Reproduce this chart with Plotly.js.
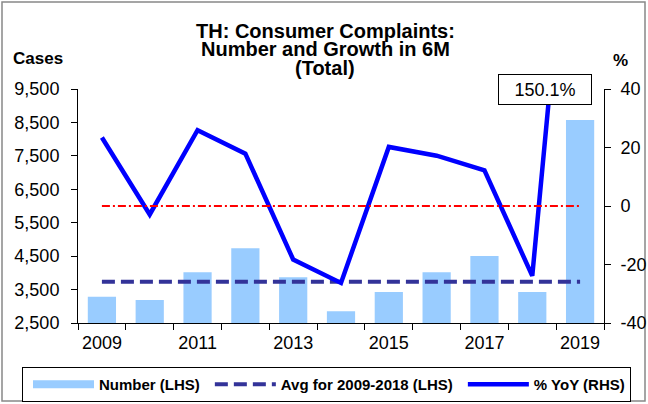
<!DOCTYPE html>
<html>
<head>
<meta charset="utf-8">
<script src="https://cdn.plot.ly/plotly-3.0.1.min.js"></script>
<style>html,body{margin:0;padding:0;background:#fff;}#chart{width:648px;height:404px;}</style>
</head>
<body>
<div id="chart"></div>
<script>
// ---- data ----
const years = [2009, 2010, 2011, 2012, 2013, 2014, 2015, 2016, 2017, 2018, 2019];
const complaints = [3287, 3190, 4016, 4734, 3866, 2850, 3427, 4016, 4504, 3427, 8573];
const yoyPct = [23.4, -2.9, 25.9, 17.9, -18.3, -26.3, 20.2, 17.2, 12.2, -23.9, 150.1];
const avgYears = [2009, 2019];
const avg2009to2018 = [3732, 3732];
const yearTickLabels = [2009, 2011, 2013, 2015, 2017, 2019];
const leftTicks = [2500, 3500, 4500, 5500, 6500, 7500, 8500, 9500];
const rightTicks = [-40, -20, 0, 20, 40];
const rightTickLabels = ['-40', '-20', '0', '20', '40'];
const calloutText = "150.1%";
const titleLines = ["TH: Consumer Complaints:", "Number and Growth in 6M", "(Total)"];

const FONT = "Arial, 'Liberation Sans', sans-serif";
const L = 78, R = 604, T = 89, B = 323;
const py = v => (B - v) / (B - T);
const px = v => (v - L) / (R - L);

const traces = [
  {type: 'bar', x: years, y: complaints, marker: {color: '#99CCFF'}, showlegend: false, yaxis: 'y', hoverinfo: 'skip'},
  {type: 'scatter', mode: 'lines', x: [null], y: [null], name: 'Number (LHS)', line: {color: '#99CCFF', width: 8}, yaxis: 'y'},
  {type: 'scatter', mode: 'lines', x: avgYears, y: avg2009to2018, name: 'Avg for 2009-2018 (LHS)',
   line: {color: '#333399', width: 4, dash: '13px,6px'}, yaxis: 'y'},
  {type: 'scatter', mode: 'lines', x: years, y: yoyPct, name: '% YoY (RHS)',
   line: {color: '#0000FF', width: 4.5}, yaxis: 'y2'}
];

const titleY = [31, 49.5, 68];
const annotations = titleLines.map((t, i) => ({
  text: '<b>' + t + '</b>', xref: 'paper', yref: 'paper', x: px(325), y: py(titleY[i]),
  xanchor: 'center', yanchor: 'middle', showarrow: false, font: {family: FONT, size: 20, color: '#000'}
}));
annotations.push({text: '<b>Cases</b>', xref: 'paper', yref: 'paper', x: px(11), y: py(58),
  xanchor: 'left', yanchor: 'middle', showarrow: false, font: {family: FONT, size: 17, color: '#000'}});
annotations.push({text: '<b>%</b>', xref: 'paper', yref: 'paper', x: px(620), y: py(60),
  xanchor: 'center', yanchor: 'middle', showarrow: false, font: {family: FONT, size: 17, color: '#000'}});
annotations.push({text: calloutText, xref: 'paper', yref: 'paper', x: px(545), y: py(89.5),
  xanchor: 'center', yanchor: 'middle', showarrow: false, width: 90, height: 27, borderpad: 1,
  bordercolor: '#000', borderwidth: 1, bgcolor: '#fff', font: {family: FONT, size: 18, color: '#000'}});

const layout = {
  width: 648, height: 404,
  margin: {l: L, r: 648 - R, t: T, b: 404 - B, pad: 0, autoexpand: false},
  paper_bgcolor: '#fff', plot_bgcolor: '#fff',
  font: {family: FONT, size: 18, color: '#000'},
  bargap: 0.41,
  showlegend: true,
  legend: {orientation: 'h', x: px(22), xanchor: 'left', y: py(367), yanchor: 'top',
    bordercolor: '#000', borderwidth: 1, bgcolor: '#fff', itemwidth: 61, indentation: 5,
    font: {family: FONT, size: 15, color: '#000', weight: 'bold'}},
  xaxis: {type: 'linear', range: [2008.5, 2019.5], tickmode: 'array', tickvals: yearTickLabels,
    ticks: '', showgrid: false, zeroline: false, showline: true, linecolor: '#000', linewidth: 1,
    ticklabelstandoff: 3,
    minor: {ticks: 'outside', tick0: 2008.5, dtick: 1, ticklen: 6, tickcolor: '#000', showgrid: false}},
  yaxis: {range: [2500, 9500], tickmode: 'array', tickvals: leftTicks, tickformat: ',d',
    ticks: 'outside', ticklen: 6, tickcolor: '#000', showgrid: false, zeroline: false,
    showline: true, linecolor: '#000', linewidth: 1, ticklabelstandoff: 8},
  yaxis2: {range: [-40, 40], tickmode: 'array', tickvals: rightTicks, ticktext: rightTickLabels,
    overlaying: 'y', side: 'right',
    ticks: 'outside', ticklen: 6, tickcolor: '#000', showgrid: false, zeroline: false,
    showline: true, linecolor: '#000', linewidth: 1, ticklabelstandoff: 6},
  shapes: [
    {type: 'line', xref: 'x', yref: 'y2', x0: years[0], x1: years[years.length - 1], y0: 0, y1: 0,
     line: {color: '#FF0000', width: 2, dash: '8px,3px,2px,3px'}},
    {type: 'rect', xref: 'paper', yref: 'paper', x0: px(2), x1: px(645), y0: py(401), y1: py(2),
     line: {color: '#888', width: 1.5}, layer: 'below'}
  ],
  annotations: annotations
};

Plotly.newPlot('chart', traces, layout, {displayModeBar: false, staticPlot: true});
</script>
</body>
</html>
